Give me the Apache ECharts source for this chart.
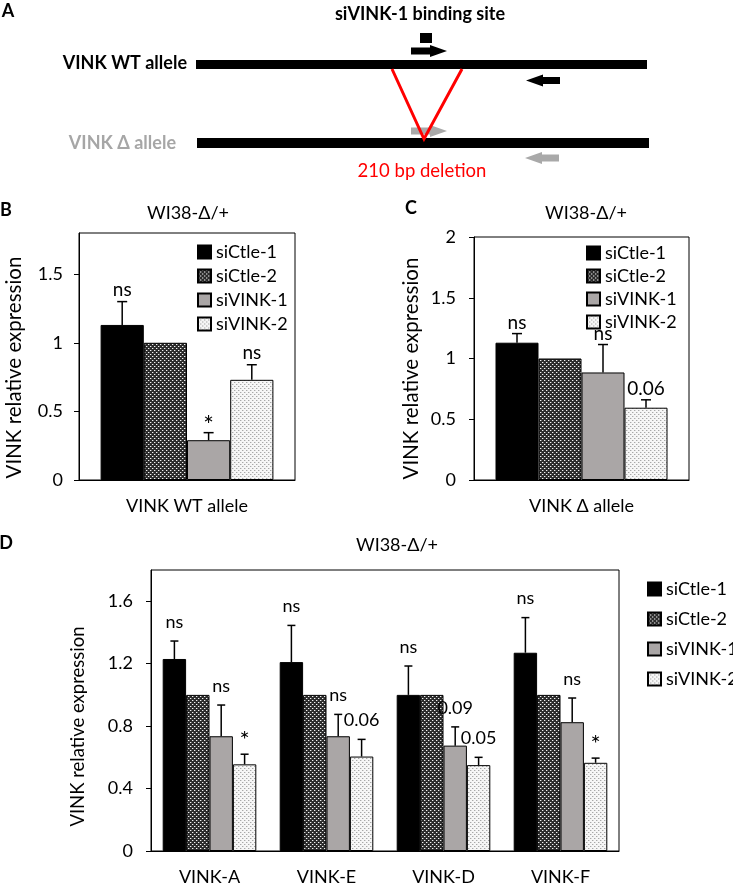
<!DOCTYPE html>
<html><head><meta charset="utf-8">
<script src="https://cdn.jsdelivr.net/npm/echarts@6/dist/echarts.min.js"></script>
<style>html,body{margin:0;padding:0;background:#fff}#c{width:733px;height:886px}</style>
</head><body><div id="c"></div>
<script>
// ---------- data ----------
const seriesNames = ['siCtle-1', 'siCtle-2', 'siVINK-1', 'siVINK-2'];

const catB = ['VINK WT allele'];
const valB = [1.13, 1.0, 0.29, 0.73];
const errB = [0.17, 0, 0.055, 0.11];
const sigB = ['ns', '', '*', 'ns'];
const ticksB = [0, 0.5, 1, 1.5];

const catC = ['VINK Δ allele'];
const valC = [1.13, 1.0, 0.885, 0.595];
const errC = [0.075, 0, 0.23, 0.065];
const sigC = ['ns', '', 'ns', '0.06'];
const ticksC = [0, 0.5, 1, 1.5, 2];

const catD = ['VINK-A', 'VINK-E', 'VINK-D', 'VINK-F'];
const dCtle1 = [1.23, 1.21, 1.0, 1.27];
const dCtle2 = [1.0, 1.0, 1.0, 1.0];
const dVINK1 = [0.735, 0.735, 0.675, 0.825];
const dVINK2 = [0.555, 0.605, 0.55, 0.565];
const eCtle1 = [0.115, 0.235, 0.185, 0.225];
const eCtle2 = [0, 0, 0, 0];
const eVINK1 = [0.2, 0.14, 0.12, 0.155];
const eVINK2 = [0.065, 0.11, 0.05, 0.03];
const sCtle1 = ['ns', 'ns', 'ns', 'ns'];
const sCtle2 = ['', '', '', ''];
const sVINK1 = ['ns', 'ns', '0.09', 'ns'];
const sVINK2 = ['*', '0.06', '0.05', '*'];
const ticksD = [0, 0.4, 0.8, 1.2, 1.6];

// ---------- styles ----------
const FF = 'Lato';
function makePattern(bg, dots) {
  const c = document.createElement('canvas');
  c.width = 4; c.height = 4;
  const ctx = c.getContext('2d');
  ctx.fillStyle = bg; ctx.fillRect(0, 0, 4, 4);
  dots.forEach(d => { ctx.fillStyle = d[2]; ctx.fillRect(d[0], d[1], 1, 1); });
  return c;
}
const patDark = makePattern('#2c2c2c', [[0,0,'#f2f2f2'],[2,2,'#f2f2f2'],[1,0,'#707070'],[3,2,'#707070']]);
const patLight = makePattern('#f6f6f6', [[0,0,'#a8a8a8'],[2,2,'#a8a8a8'],[1,0,'#d8d8d8'],[3,2,'#d8d8d8']]);
const fills = ['#000000', {image: patDark, repeat: 'repeat'}, '#aaa6a6', {image: patLight, repeat: 'repeat'}];

// ---------- builders ----------
function errRender(labels, gap, cap, fs) {
  return function (params, api) {
    const cat = api.value(0), si = api.value(1), v = api.value(2), e = api.value(3);
    const band = api.size([1, 0])[0];
    const bw = band * 0.8 / 4;
    const cx = api.coord([cat, 0])[0] - band * 0.4 + bw * (si + 0.5);
    const yV = api.coord([cat, v])[1];
    const yT = api.coord([cat, v + e])[1];
    const ch = [];
    if (e > 0) {
      ch.push({type: 'line', shape: {x1: cx, y1: yV, x2: cx, y2: yT}, style: {stroke: '#000', lineWidth: 1.5}});
      ch.push({type: 'line', shape: {x1: cx - cap, y1: yT, x2: cx + cap, y2: yT}, style: {stroke: '#000', lineWidth: 1.5}});
    }
    const t = labels[params.dataIndex];
    if (t) {
      const star = t === '*';
      ch.push({type: 'text', x: cx, y: yT - gap + (star ? 5 : 0),
        style: {text: t, fill: '#000', fontSize: star ? fs + 6 : fs, fontFamily: FF, align: 'center', verticalAlign: 'middle'}});
    }
    return {type: 'group', children: ch};
  };
}

const series = [];
function addPanel(gi, valsBySeries, errsBySeries, sigsBySeries, gap, cap, fs) {
  const errData = [], labels = [];
  valsBySeries.forEach((vals, si) => {
    series.push({
      type: 'bar', name: seriesNames[si], xAxisIndex: gi, yAxisIndex: gi,
      data: vals, barGap: '0%', barCategoryGap: '20%',
      itemStyle: {color: fills[si], borderColor: '#000', borderWidth: 1},
      emphasis: {disabled: true}
    });
    vals.forEach((v, ci) => {
      errData.push([ci, si, v, errsBySeries[si][ci]]);
      labels.push(sigsBySeries[si][ci]);
    });
  });
  series.push({
    type: 'custom', xAxisIndex: gi, yAxisIndex: gi, z: 5,
    renderItem: errRender(labels, gap, cap, fs),
    encode: {x: 0, y: 2}, data: errData, silent: true
  });
}

addPanel(0, valB.map(v => [v]), errB.map(e => [e]), sigB.map(s => [s]), 12, 5, 19);
addPanel(1, valC.map(v => [v]), errC.map(e => [e]), sigC.map(s => [s]), 11, 5, 19);
addPanel(2, [dCtle1, dCtle2, dVINK1, dVINK2], [eCtle1, eCtle2, eVINK1, eVINK2],
  [sCtle1, sCtle2, sVINK1, sVINK2], 19, 4, 18);

function xAx(gi, cats, margin) {
  return {type: 'category', gridIndex: gi, data: cats,
    axisLine: {lineStyle: {color: '#000', width: 1}}, axisTick: {show: false},
    axisLabel: {color: '#000', fontSize: 18, fontFamily: FF, margin: margin}};
}
function yAx(gi, max, ticks, nameGap, margin, pad, nfs) {
  return {type: 'value', gridIndex: gi, min: 0, max: max,
    name: 'VINK relative expression', nameLocation: 'middle', nameGap: nameGap,
    nameTextStyle: {color: '#000', fontSize: nfs, fontFamily: FF, padding: [0, pad, 0, 0]},
    axisLine: {show: true, lineStyle: {color: '#000', width: 1}},
    axisTick: {show: true, inside: false, length: 5, lineStyle: {color: '#000'}, customValues: ticks},
    axisLabel: {color: '#000', fontSize: 18, fontFamily: FF, margin: margin, customValues: ticks},
    splitLine: {show: false}};
}

function legend(left, top, gap) {
  return {orient: 'vertical', left: left, top: top, padding: 0, itemWidth: 13, itemHeight: 13, itemGap: gap,
    itemTextGap: 4, icon: 'rect', selectedMode: false, data: seriesNames,
    textStyle: {color: '#000', fontSize: 18, fontFamily: FF, overflow: 'none', width: 120}};
}

function arrow(x1, x2, cy, color) {
  const dir = x2 > x1 ? 1 : -1;
  const hx = x2 - dir * 17;
  return {type: 'polygon', shape: {points: [[x1, cy - 3.5], [hx, cy - 3.5], [hx, cy - 6], [x2, cy], [hx, cy + 6], [hx, cy + 3.5], [x1, cy + 3.5]]},
    style: {fill: color}};
}
function txt(x, y, s, o) {
  return {type: 'text', x: x, y: y, style: Object.assign({text: s, fill: '#000', fontSize: 18, fontFamily: FF,
    align: 'center', verticalAlign: 'middle'}, o || {})};
}

const graphic = [
  txt(8, 11, 'A', {fontWeight: 'bold'}),
  txt(420, 14, 'siVINK-1 binding site', {fontWeight: 'bold'}),
  {type: 'rect', shape: {x: 420, y: 33, width: 12, height: 10}, style: {fill: '#000'}},
  arrow(411, 447, 51, '#000'),
  {type: 'rect', shape: {x: 196, y: 60, width: 451, height: 9}, style: {fill: '#000'}},
  arrow(560, 526, 80.5, '#000'),
  arrow(411, 447, 131, '#a9a9a9'),
  {type: 'rect', shape: {x: 197, y: 138, width: 452, height: 10}, style: {fill: '#000'}},
  arrow(559, 525, 158, '#a9a9a9'),
  {type: 'polyline', shape: {points: [[392, 69], [424, 139], [462, 69]]}, style: {stroke: '#ff0000', lineWidth: 3, fill: null}},
  txt(187, 63, 'VINK WT allele', {fontWeight: 'bold', align: 'right'}),
  txt(176, 143, 'VINK Δ allele', {fontWeight: 'bold', align: 'right', fill: '#a6a6a6'}),
  txt(422, 171, '210 bp deletion', {fill: '#ff0000', fontSize: 18.5}),
  txt(6, 210, 'B', {fontWeight: 'bold'}),
  txt(188, 213, 'WI38-Δ/+'),
  txt(411, 208, 'C', {fontWeight: 'bold'}),
  txt(586, 213, 'WI38-Δ/+'),
  txt(6, 543, 'D', {fontWeight: 'bold'}),
  txt(397, 545, 'WI38-Δ/+')
];

const option = {
  animation: false,
  textStyle: {fontFamily: FF},
  grid: [
    {left: 79, top: 233, width: 216, height: 247, show: true, borderColor: '#000', borderWidth: 1, containLabel: false},
    {left: 474, top: 237, width: 215, height: 243, show: true, borderColor: '#000', borderWidth: 1, containLabel: false},
    {left: 151, top: 570, width: 468, height: 282, show: true, borderColor: '#000', borderWidth: 1, containLabel: false}
  ],
  xAxis: [xAx(0, catB, 17), xAx(1, catC, 17), xAx(2, catD, 17)],
  yAxis: [yAx(0, 1.8, ticksB, 54, 16, 22, 20.5), yAx(1, 2, ticksC, 52, 18, 20, 20.5), yAx(2, 1.8, ticksD, 63, 18, 32, 18.5)],
  legend: [legend(197, 243, 6), legend(586, 244, 5), legend(647, 580, 12)],
  series: series,
  graphic: graphic
};

const chart = echarts.init(document.getElementById('c'), null, {renderer: 'canvas'});
chart.setOption(option);
</script>
</body></html>
